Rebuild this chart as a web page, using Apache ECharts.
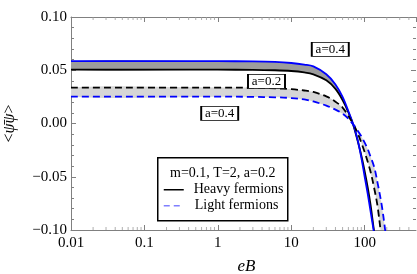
<!DOCTYPE html>
<html><head><meta charset="utf-8">
<script src="https://cdn.jsdelivr.net/npm/echarts@6/dist/echarts.min.js"></script>
<style>html,body{margin:0;padding:0;background:#fff}#c{width:417px;height:274px}</style>
</head><body><div id="c"></div>
<script>
// ---- data ----
const eB =       [0.01,   1,      3,      6,      10,     15,     20,     30,     40,     50,     60,     70,      80,      90,      100,     110,     120,     135,     150,     170,     190,     210,    240];
const heavyA04 = [0.0585, 0.0585, 0.0583, 0.0578, 0.0568, 0.0553, 0.0536, 0.0462, 0.0367, 0.0250, 0.0115, -0.0010, -0.0150, -0.0320, -0.0500, -0.0660, -0.0820, -0.1040, -0.1250, -0.1500, -0.1750, -0.2000, -0.2400];
const heavyA02 = [0.0505, 0.0505, 0.0504, 0.0500, 0.0493, 0.0480, 0.0462, 0.0405, 0.0325, 0.0220, 0.0105, -0.0015, -0.0160, -0.0300, -0.0450, -0.0600, -0.0760, -0.1020, -0.1200, -0.1450, -0.1700, -0.2000, -0.2400];
const lightA02 = [0.0337, 0.0337, 0.0335, 0.0330, 0.0322, 0.0310, 0.0296, 0.0255, 0.0205, 0.0150, 0.0070, -0.0005, -0.0090, -0.0180, -0.0270, -0.0360, -0.0450, -0.0610, -0.0780, -0.1080, -0.1300, -0.1500, -0.1800];
const lightA04 = [0.0252, 0.0252, 0.0250, 0.0246, 0.0239, 0.0226, 0.0207, 0.0168, 0.0130, 0.0092, 0.0045, -0.0010, -0.0065, -0.0120, -0.0180, -0.0240, -0.0310, -0.0410, -0.0560, -0.0760, -0.1000, -0.1250, -0.1500];
const xTickLabels = [0.01, 0.1, 1, 10, 100];
const xMinorTicks = [0.02,0.03,0.04,0.05,0.06,0.07,0.08,0.09,0.2,0.3,0.4,0.5,0.6,0.7,0.8,0.9,2,3,4,5,6,7,8,9,20,30,40,50,60,70,80,90,200,300,400];
const yTickLabels = [-0.10, -0.05, 0.00, 0.05, 0.10];
const annotations = [
  {text: 'a=0.4', eB: 34, v: 0.0696},
  {text: 'a=0.2', eB: 4.6, v: 0.0395},
  {text: 'a=0.4', eB: 1.06, v: 0.0094}
];
const legendTitle = 'm=0.1, T=2, a=0.2';
const legendItems = ['Heavy fermions', 'Light fermions'];

// ---- build ----
const pairs = arr => eB.map((x, i) => [x, arr[i]]);
const SERIF = '"Liberation Serif", "DejaVu Serif", serif';
const AX = '#808080';
const SM = 0.35;

function band(a, b, color) {
  return {type: 'custom', silent: true, clip: true, z: 1, data: [[1, 0]],
    renderItem: function (params, api) {
      const up = eB.map((x, i) => api.coord([x, a[i]]));
      const lo = eB.map((x, i) => api.coord([x, b[i]])).reverse();
      return {type: 'polygon', shape: {points: up.concat(lo), smooth: SM}, style: {fill: color, stroke: null}};
    }};
}
function curve(arr, color, dashed) {
  return {type: 'line', data: pairs(arr), symbol: 'none', smooth: SM, z: 3,
    lineStyle: {color: color, width: 1.8, type: dashed ? [7, 4] : 'solid'}};
}
const fmtY = v => {
  const s = Math.abs(v).toFixed(2);
  return (v < -1e-9 ? '\u2212' : '') + s;
};
const fmtX = v => {
  const hit = xTickLabels.find(t => Math.abs(Math.log10(t) - Math.log10(v)) < 1e-6);
  return hit === undefined ? '' : String(hit);
};

const chart = echarts.init(document.getElementById('c'), null, {renderer: 'canvas'});
const option = {
  animation: false,
  backgroundColor: '#fff',
  grid: {left: 71, right: 1, top: 17, bottom: 44, containLabel: false, outerBoundsMode: 'none'},
  xAxis: [
    {type: 'log', logBase: 10, min: 0.01, max: 500, position: 'bottom',
     axisLine: {onZero: false, lineStyle: {color: AX, width: 1}},
     axisTick: {inside: true, length: 5, lineStyle: {color: AX}},
     axisLabel: {formatter: fmtX, color: '#000', fontFamily: SERIF, fontSize: 15, margin: 6, showMinLabel: true, showMaxLabel: false},
     splitLine: {show: false},
     name: 'eB', nameLocation: 'middle', nameGap: 28,
     nameTextStyle: {fontFamily: SERIF, fontStyle: 'italic', fontSize: 17, color: '#000', padding: [0, 0, 0, 6]}},
    {type: 'log', logBase: 10, min: 0.01, max: 500, position: 'top',
     axisLine: {onZero: false, lineStyle: {color: AX, width: 1}},
     axisTick: {inside: true, length: 5, lineStyle: {color: AX}},
     axisLabel: {show: false}, splitLine: {show: false}}
  ],
  yAxis: [
    {type: 'value', min: -0.1, max: 0.1, interval: 0.05, position: 'left',
     axisLine: {show: true, onZero: false, lineStyle: {color: AX, width: 1}},
     axisTick: {show: true, inside: true, length: 5, lineStyle: {color: AX}},
     minorTick: {show: true, splitNumber: 5, length: 3, lineStyle: {color: AX}},
     axisLabel: {formatter: fmtY, color: '#000', fontFamily: SERIF, fontSize: 15, margin: 4},
     splitLine: {show: false},
     name: '<{i|\u03C8\u0304\u03C8}>', nameLocation: 'middle', nameRotate: 90, nameGap: 53,
     nameTextStyle: {fontFamily: SERIF, fontSize: 16, color: '#000',
       rich: {i: {fontFamily: SERIF, fontStyle: 'italic', fontSize: 16, color: '#000'}}}},
    {type: 'value', min: -0.1, max: 0.1, interval: 0.05, position: 'right',
     axisLine: {show: false, onZero: false},
     axisTick: {show: true, inside: true, length: 5, lineStyle: {color: AX}},
     minorTick: {show: true, splitNumber: 5, length: 3, lineStyle: {color: AX}},
     axisLabel: {show: false}, splitLine: {show: false}}
  ],
  series: [
    band(heavyA04, heavyA02, '#9c9c9c'),
    band(lightA02, lightA04, '#d6d6d6'),
    curve(heavyA02, '#000000', false),
    Object.assign(curve(heavyA04, '#0000ff', false), {
      markPoint: {
        symbol: 'rect', symbolSize: [37, 14], silent: true,
        itemStyle: {color: '#fff', borderColor: '#000', borderWidth: 1.2},
        label: {show: true, position: 'inside', formatter: '{b}', color: '#000', fontFamily: SERIF, fontSize: 13},
        data: annotations.map(a => ({name: a.text, coord: [a.eB, a.v]}))
      }
    }),
    curve(lightA02, '#000000', true),
    curve(lightA04, '#0000ff', true),
    {type: 'custom', silent: true, clip: false, z: 4,
     data: xMinorTicks.map(v => [v, 0]),
     renderItem: function (params, api) {
       const b = api.coord([api.value(0), -0.1]);
       const t = api.coord([api.value(0), 0.1]);
       const st = {stroke: '#9a9a9a', lineWidth: 0.8};
       return {type: 'group', children: [
         {type: 'line', shape: {x1: b[0], y1: b[1], x2: b[0], y2: b[1] - 3}, style: st},
         {type: 'line', shape: {x1: t[0], y1: t[1], x2: t[0], y2: t[1] + 3}, style: st}
       ]};
     }}
  ],
  graphic: [
    {type: 'group', left: 157, top: 157, z: 10, children: [
      {type: 'rect', shape: {x: 0, y: 0, width: 130, height: 63}, style: {fill: '#fff', stroke: '#000', lineWidth: 1.5}},
      {type: 'text', x: 65, y: 16, style: {text: legendTitle, fill: '#000', font: '14px ' + SERIF, textAlign: 'center', textVerticalAlign: 'middle'}},
      {type: 'line', shape: {x1: 6, y1: 32, x2: 26, y2: 32}, style: {stroke: '#000', lineWidth: 1.5}},
      {type: 'text', x: 36, y: 32, style: {text: legendItems[0], fill: '#000', font: '14px ' + SERIF, textAlign: 'left', textVerticalAlign: 'middle'}},
      {type: 'line', shape: {x1: 6, y1: 48, x2: 26, y2: 48}, style: {stroke: '#7f7fff', lineWidth: 1.5, lineDash: [6, 4]}},
      {type: 'text', x: 37, y: 48, style: {text: legendItems[1], fill: '#000', font: '14px ' + SERIF, textAlign: 'left', textVerticalAlign: 'middle'}}
    ]}
  ]
};
chart.setOption(option);
</script>
</body></html>
